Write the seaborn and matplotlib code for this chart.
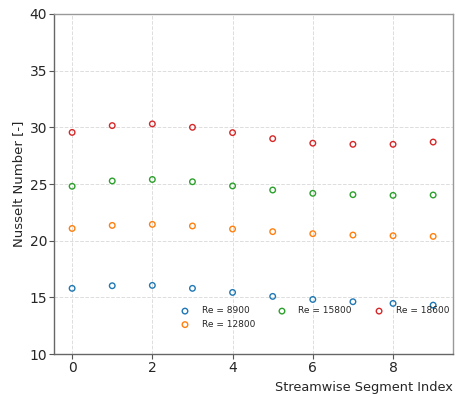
import numpy as np
import pandas as pd
import matplotlib
matplotlib.use("Agg")
import matplotlib.pyplot as plt
import seaborn as sns

segments = list(range(10))
re_labels = ["Re = 8900", "Re = 12800", "Re = 15800", "Re = 18600"]
nu_8900 = [15.8, 16.03, 16.06, 15.8, 15.44, 15.09, 14.82, 14.62, 14.47, 14.32]
nu_12800 = [21.08, 21.35, 21.44, 21.3, 21.03, 20.8, 20.62, 20.5, 20.44, 20.38]
nu_15800 = [24.8, 25.27, 25.4, 25.2, 24.83, 24.47, 24.18, 24.06, 24.0, 24.03]
nu_18600 = [29.55, 30.15, 30.3, 30.0, 29.53, 29.0, 28.6, 28.5, 28.5, 28.7]
series = [nu_8900, nu_12800, nu_15800, nu_18600]

sns.set_theme(style="white")
plt.rcParams['font.family'] = ['DejaVu Sans']

colors = sns.color_palette("tab10", 4)

fig, ax = plt.subplots(figsize=(4.62, 3.97), dpi=100)
fig.subplots_adjust(left=0.117, right=0.981, top=0.965, bottom=0.108)

for lab, vals, c in zip(re_labels, series, colors):
    df = pd.DataFrame({"seg": segments, "nu": vals})
    sns.scatterplot(data=df, x="seg", y="nu", ax=ax, marker="o", s=16,
                    facecolors="none", edgecolor=c, linewidth=1.0, label=lab)

ax.set_ylim(10, 40)
ax.set_xlim(-0.45, 9.5)
ax.set_xticks([0, 2, 4, 6, 8])
ax.set_yticks([10, 15, 20, 25, 30, 35, 40])
ax.tick_params(axis="both", labelsize=10, length=3.5, width=0.8, color="#555555",
               left=True, bottom=True, pad=1.5)
ax.grid(True, linestyle="--", color="#dddddd", linewidth=0.7)
for name, sp in ax.spines.items():
    sp.set_linewidth(1.0)
    sp.set_color("#666666" if name in ("left", "bottom") else "#999999")
ax.set_xlabel("Streamwise Segment Index", fontsize=9.3, loc="right", labelpad=4)
ax.set_ylabel("Nusselt Number [-]", fontsize=9.5, labelpad=3)

ax.legend(ncol=3, loc="lower right", bbox_to_anchor=(1.01, 0.05), frameon=False,
          fontsize=6.5, handletextpad=1.33, columnspacing=2.5, labelspacing=0.5,
          handlelength=1.0)

fig.savefig("out.png", dpi=100)
